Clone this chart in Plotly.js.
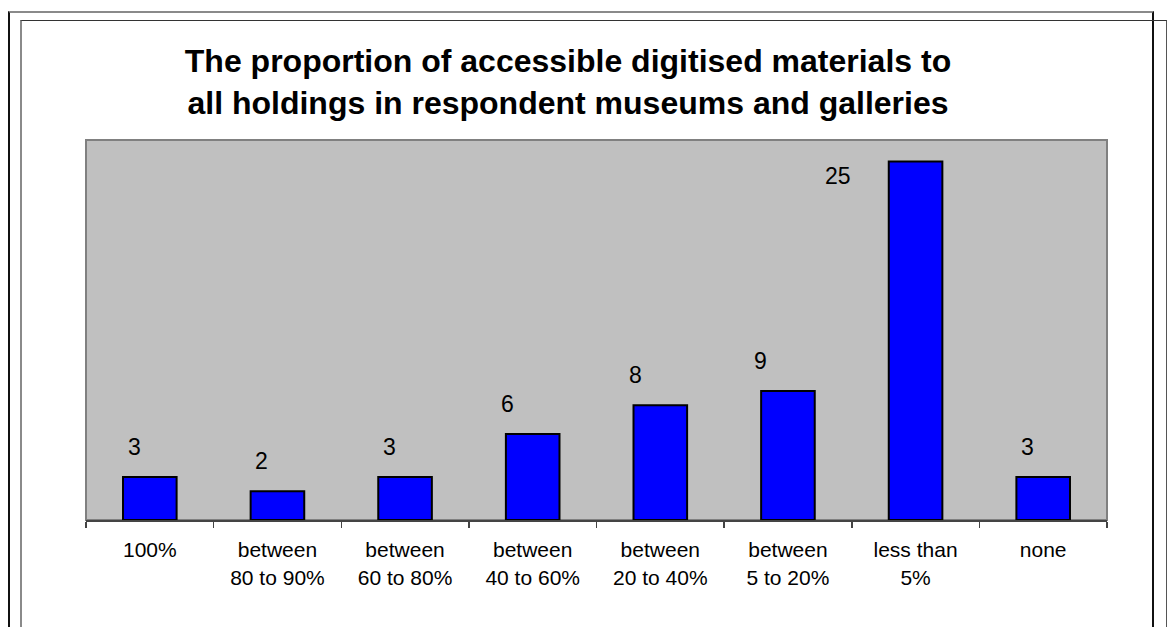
<!DOCTYPE html>
<html>
<head>
<meta charset="utf-8">
<script src="https://cdn.plot.ly/plotly-3.0.1.min.js"></script>
<style>
  html, body { margin: 0; padding: 0; background: #ffffff; }
  #wrap { position: relative; width: 1167px; height: 627px; overflow: hidden; background: #fff; }
  #chart { position: absolute; left: 0; top: 0; width: 1167px; height: 627px; }
  .frameA { position: absolute; left: 8px; top: 11px; width: 1146px; height: 700px;
            border-left: 2px solid #111; border-top: 2px solid #8a8a8a; border-right: 2px solid #111; box-sizing: border-box; }
  .frameB { position: absolute; left: 20px; top: 20px; width: 1147px; height: 700px;
            border-left: 2px solid #8a8a8a; border-top: 1px solid #333; border-right: 1px solid #555; box-sizing: border-box; }
</style>
</head>
<body>
<div id="wrap">
  <div class="frameA"></div>
  <div class="frameB"></div>
  <div id="chart"></div>
</div>
<script>
// ---- data ----
const categories = ["100%", "between<br>80 to 90%", "between<br>60 to 80%", "between<br>40 to 60%",
                    "between<br>20 to 40%", "between<br>5 to 20%", "less than<br>5%", "none"];
const counts = [3, 2, 3, 6, 8, 9, 25, 3];

// ---- label placement (styling only) ----
const labelDx = [-15, -16, -16, -25, -25, -27, -78, -16];
const labelDy = [15, 15, 15, 15, 15, 15, -29, 15];

const trace = {
  type: "bar",
  x: categories,
  y: counts,
  marker: { color: "#0000FF", line: { color: "#000000", width: 2 } },
  hoverinfo: "skip"
};

const annotations = counts.map((v, i) => ({
  x: categories[i], y: v, xref: "x", yref: "y",
  text: String(v), showarrow: false,
  xanchor: "center", yanchor: "bottom",
  xshift: labelDx[i], yshift: labelDy[i],
  font: { family: "Liberation Sans, Arial, sans-serif", size: 23, color: "#000" }
}));

const layout = {
  width: 1167, height: 627,
  margin: { l: 86, r: 60, t: 140, b: 107, pad: 0 },
  paper_bgcolor: "rgba(0,0,0,0)",
  plot_bgcolor: "#C0C0C0",
  showlegend: false,
  bargap: 0.58,
  title: {
    text: "The proportion of accessible digitised materials to<br>all holdings in respondent museums and galleries",
    xref: "container", yref: "container",
    x: 568 / 1167, xanchor: "center",
    y: 1 - 72 / 627, yanchor: "top",
    font: { family: "Liberation Sans, Arial, sans-serif", size: 32, color: "#000", weight: "bold" }
  },
  xaxis: {
    type: "category",
    tickson: "boundaries",
    ticks: "outside", ticklen: 6, tickwidth: 1.5, tickcolor: "#444",
    showline: true, linecolor: "#444", linewidth: 2,
    showgrid: false, zeroline: false,
    ticklabelstandoff: 10,
    tickfont: { family: "Liberation Sans, Arial, sans-serif", size: 21, color: "#000" },
    fixedrange: true
  },
  yaxis: {
    range: [0, 26.5],
    showticklabels: false, ticks: "", showgrid: false, zeroline: false, showline: false,
    fixedrange: true
  },
  shapes: [
    { type: "rect", xref: "paper", yref: "paper", x0: 0, x1: 1, y0: 0, y1: 1,
      line: { color: "#808080", width: 2 }, fillcolor: "rgba(0,0,0,0)", layer: "below" }
  ],
  annotations: annotations
};

Plotly.newPlot("chart", [trace], layout, { displayModeBar: false, staticPlot: true });
</script>
</body>
</html>
